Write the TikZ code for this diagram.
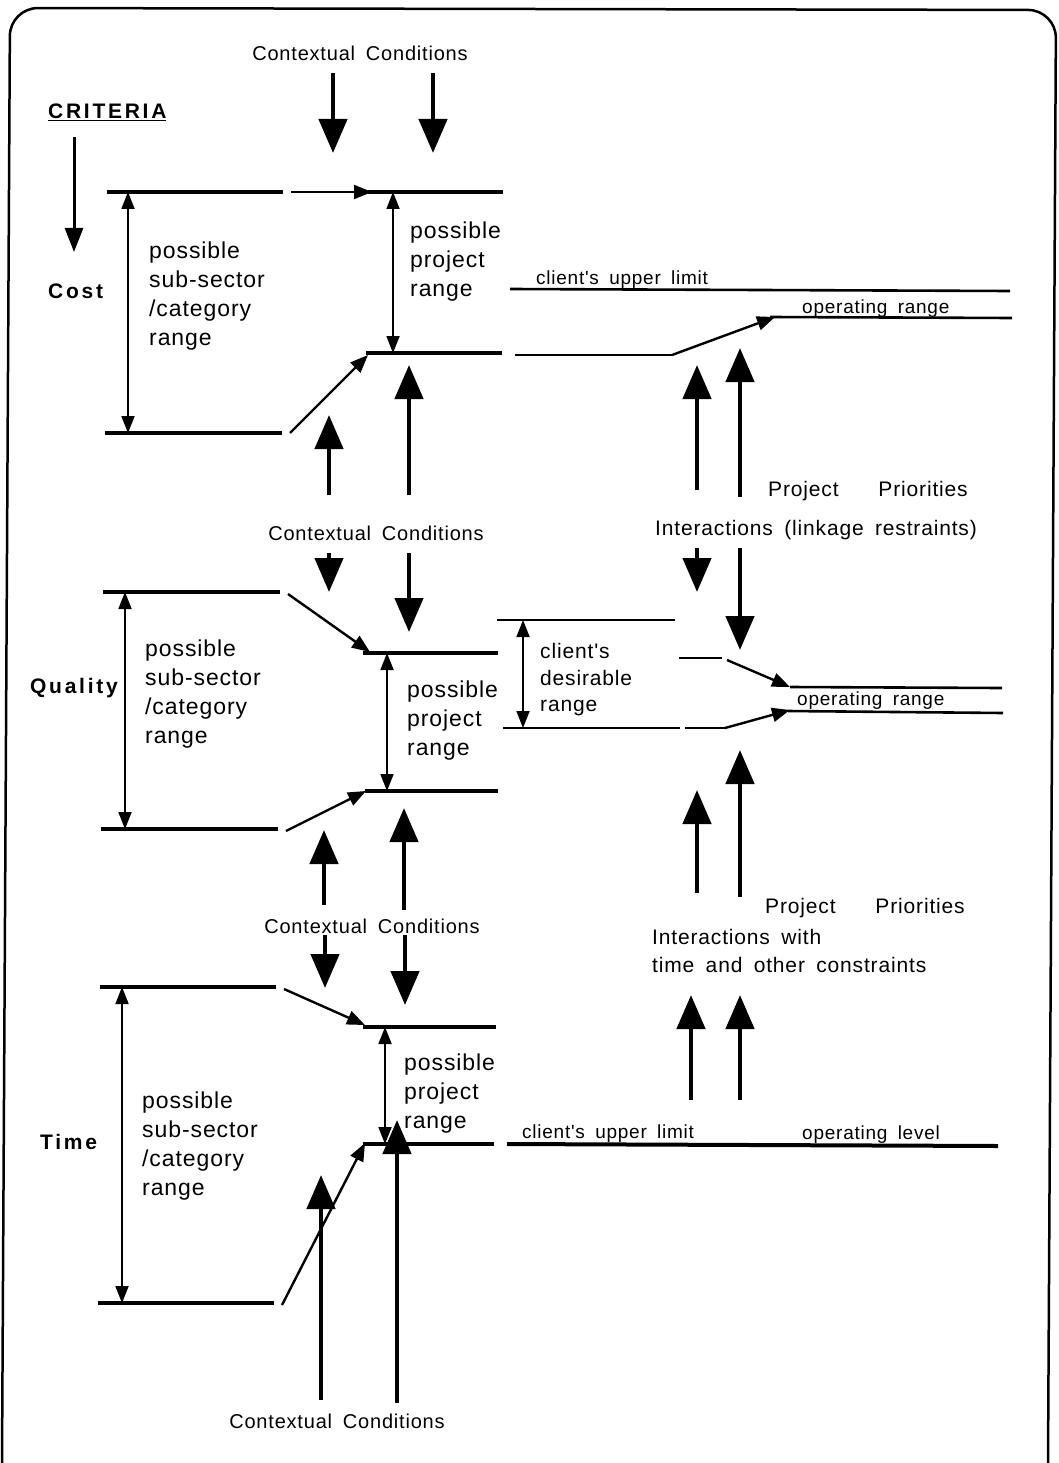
\documentclass[tikz,border=0pt]{standalone}
\usepackage{fontspec}
\setmainfont{Liberation Sans}
\newfontfamily\loosefont[LetterSpace=4,WordSpace=1.7]{Liberation Sans}
\newfontfamily\critfont[LetterSpace=13]{Liberation Sans}
\usetikzlibrary{arrows.meta}

\begin{document}
\begin{tikzpicture}[x=1pt, y=-1pt,
    lvl/.style={line width=4pt},
    lim/.style={line width=2.6pt},
    push/.style={-{Triangle[length=34pt,width=28pt]}, line width=4.5pt},
    down/.style={-{Triangle[length=24pt,width=18pt]}, line width=3pt},
    span/.style={{Triangle[length=17pt,width=13pt]}-{Triangle[length=17pt,width=13pt]}, line width=1.8pt},
    slide/.style={-{Triangle[length=18pt,width=14pt]}, line width=2.4pt},
    ctx/.style={font=\loosefont\fontsize{20}{22}\selectfont, inner sep=0pt},
    crit/.style={font=\critfont\bfseries\fontsize{21}{24}\selectfont, inner sep=0pt, anchor=west},
    rng/.style={font=\loosefont\fontsize{23}{29}\selectfont, align=left, inner sep=0pt, anchor=west},
    lbl/.style={font=\loosefont\fontsize{19}{20}\selectfont, inner sep=0pt, anchor=base west},
    prio/.style={font=\loosefont\fontsize{21}{28}\selectfont, align=left, inner sep=0pt, anchor=west}
]
\useasboundingbox (0,0) rectangle (1059,1463);

% frame
\draw[line width=2.5pt, rounded corners=28pt] (2,1463) -- (10,8) -- (1056,10) -- (1048,1463);

% criteria
\node[crit] (crit) at (48,112) {\underline{CRITERIA}};
\draw[down] (74,137) -- (74,252);
\node[crit] (cost) at (48,291) {Cost};
\node[crit] (quality) at (30,688) {Quality};
\node[crit] (time) at (40,1142) {Time};

% Cost
\node[ctx] (ctxA) at (360,53) {Contextual Conditions};
\draw[push] (333,73) -- (333,153);
\draw[push] (433,73) -- (433,153);
\draw[lvl] (107,192) -- (283,192);
\draw[slide] (291,192) -- (372,192);
\draw[lvl] (368,192) -- (503,192);
\draw[lvl] (105,433) -- (282,433);
\draw[slide] (290,433) -- (368,355);
\draw[lvl] (366,353) -- (502,353);
\draw[span] (128,192) -- (128,433);
\draw[span] (393,192) -- (393,353);
\node[rng] (subA) at (149,296) {possible\\sub-sector\\/category\\range};
\node[rng] (projA) at (410,262) {possible\\project\\range};
\draw[push] (329,495) -- (329,415);
\draw[push] (409,495) -- (409,365);

% Cost: client side
\draw[lim] (510,289) -- (1010,291);
\node[lbl] (upperA) at (536,284) {client's upper limit};
\draw[lim] (770,317) -- (1012,318);
\node[lbl] (opA) at (802,313) {operating range};
\draw[lim] (515,355) -- (672,355);
\draw[slide] (672,355) -- (775,317);
\draw[push] (697,490) -- (697,365);
\draw[push] (740,497) -- (740,348);
\node[prio] (prioA) at (768,491) {Project\hspace{1.9em}Priorities};
\node[prio] (interA) at (655,530) {Interactions (linkage restraints)};
\draw[push] (697,548) -- (697,592);
\draw[push] (740,548) -- (740,650);

% Quality
\node[ctx] (ctxB) at (376,533) {Contextual Conditions};
\draw[push] (329,553) -- (329,592);
\draw[push] (409,553) -- (409,632);
\draw[lvl] (103,592) -- (280,592);
\draw[slide] (288,594) -- (370,652);
\draw[lvl] (363,653) -- (498,653);
\draw[lvl] (101,829) -- (278,829);
\draw[slide] (286,831) -- (366,791);
\draw[lvl] (365,791) -- (498,791);
\draw[span] (125,592) -- (125,829);
\draw[span] (387,653) -- (387,791);
\node[rng] (subB) at (145,694) {possible\\sub-sector\\/category\\range};
\node[rng] (projB) at (407,721) {possible\\project\\range};

% Quality: client side
\draw[lim] (497,620) -- (675,620);
\draw[lim] (503,728) -- (680,728);
\draw[lim] (685,728) -- (725,728);
\draw[slide] (725,728) -- (790,710);
\draw[lim] (679,658) -- (722,658);
\draw[slide] (727,660) -- (790,687);
\draw[span] (523,620) -- (523,728);
\node[rng, font=\loosefont\fontsize{21}{26.5}\selectfont] (wishB) at (540,680) {client's\\desirable\\range};
\draw[lim] (790,687) -- (1002,688);
\draw[lim] (788,711) -- (1003,713);
\node[lbl] (opB) at (797,705) {operating range};
\draw[push] (697,893) -- (697,790);
\draw[push] (740,897) -- (740,750);
\node[prio] (prioB) at (765,908) {Project\hspace{1.9em}Priorities};
\node[prio] (interB) at (652,951) {Interactions with\\time and other constraints};

% Time
\draw[push] (324,905) -- (324,830);
\draw[push] (404,910) -- (404,808);
\node[ctx] (ctxC) at (372,926) {Contextual Conditions};
\draw[push] (325,935) -- (325,988);
\draw[push] (405,935) -- (405,1005);
\draw[lvl] (100,987) -- (276,987);
\draw[slide] (284,989) -- (365,1025);
\draw[lvl] (363,1027) -- (496,1027);
\draw[lvl] (98,1303) -- (274,1303);
\draw[slide] (282,1305) -- (365,1143);
\draw[lvl] (363,1144) -- (494,1144);
\draw[span] (122,987) -- (122,1303);
\draw[span] (385,1027) -- (385,1144);
\node[rng] (subC) at (142,1146) {possible\\sub-sector\\/category\\range};
\node[rng] (projC) at (404,1094) {possible\\project\\range};
\draw[push] (321,1400) -- (321,1175);
\draw[push] (397,1403) -- (397,1120);
\node[ctx] (ctxD) at (337,1421) {Contextual Conditions};

% Time: client side
\draw[lvl] (507,1144) -- (998,1146);
\node[lbl] (upperC) at (522,1138) {client's upper limit};
\node[lbl] (opC) at (802,1139) {operating level};
\draw[push] (691,1100) -- (691,995);
\draw[push] (740,1100) -- (740,995);

\end{tikzpicture}
\end{document}
